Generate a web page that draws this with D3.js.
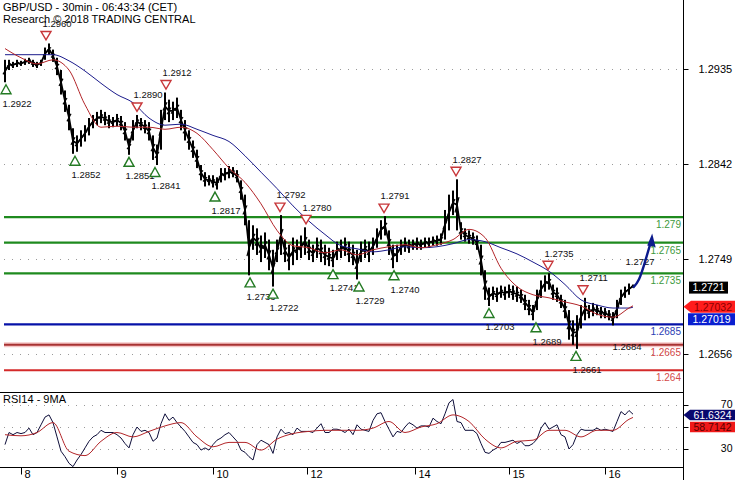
<!DOCTYPE html>
<html><head><meta charset="utf-8">
<script src="https://cdn.jsdelivr.net/npm/d3@7"></script>
<style>
body{margin:0;background:#fff}
svg{display:block}
text{font-family:"Liberation Sans",Arial,sans-serif}
</style>
</head><body>
<svg id="c" width="735" height="480"></svg>
<script>
// ---------- DATA ----------
const title1 = "GBP/USD - 30min - 06:43:34 (CET)";
const title2 = "Research \u00A9 2018 TRADING CENTRAL";
const rsiTitle = "RSI14 - 9MA";

const barHigh = [1.2944,1.2944,1.2942,1.2944,1.2943,1.2945,1.2946,1.2944,1.2942,1.2944,
1.2956,1.2960,1.2954,1.2946,1.2934,1.2914,1.2900,1.2877,1.2870,1.2875,
1.2880,1.2887,1.2890,1.2893,1.2895,1.2893,1.2890,1.2888,1.2891,1.2889,
1.2883,1.2867,1.2885,1.2890,1.2887,1.2885,1.2883,1.2870,1.2861,1.2895,
1.2912,1.2905,1.2903,1.2907,1.2895,1.2885,1.2875,1.2865,1.2856,1.2841,
1.2834,1.2831,1.2831,1.2829,1.2838,1.2838,1.2840,1.2839,1.2836,1.2826,
1.2812,1.2787,1.2782,1.2779,1.2772,1.2775,1.2768,1.2758,1.2768,1.2792,
1.2768,1.2763,1.2770,1.2768,1.2772,1.2780,1.2768,1.2763,1.2770,1.2768,
1.2763,1.2760,1.2758,1.2766,1.2768,1.2770,1.2766,1.2763,1.2758,1.2766,
1.2768,1.2766,1.2770,1.2779,1.2787,1.2791,1.2777,1.2763,1.2763,1.2768,
1.2770,1.2768,1.2768,1.2770,1.2768,1.2770,1.2770,1.2771,1.2772,1.2774,
1.2797,1.2812,1.2816,1.2827,1.2785,1.2779,1.2777,1.2775,1.2772,1.2763,
1.2738,1.2721,1.2722,1.2721,1.2723,1.2722,1.2724,1.2723,1.2722,1.2719,
1.2714,1.2709,1.2704,1.2719,1.2728,1.2733,1.2735,1.2724,1.2721,1.2714,
1.2709,1.2699,1.2689,1.2694,1.2704,1.2711,1.2704,1.2706,1.2704,1.2702,
1.2701,1.2699,1.2697,1.2709,1.2719,1.2722,1.2725,1.2724];

const barLow = [1.2922,1.2934,1.2936,1.2937,1.2938,1.2939,1.2940,1.2937,1.2936,1.2938,
1.2944,1.2949,1.2942,1.2929,1.2910,1.2893,1.2875,1.2852,1.2854,1.2859,
1.2864,1.2870,1.2877,1.2880,1.2882,1.2880,1.2877,1.2878,1.2879,1.2875,
1.2865,1.2851,1.2865,1.2877,1.2875,1.2872,1.2865,1.2846,1.2841,1.2856,
1.2885,1.2883,1.2885,1.2887,1.2875,1.2865,1.2856,1.2848,1.2838,1.2826,
1.2820,1.2821,1.2819,1.2817,1.2824,1.2826,1.2828,1.2829,1.2824,1.2807,
1.2782,1.2733,1.2758,1.2753,1.2746,1.2750,1.2738,1.2722,1.2746,1.2753,
1.2746,1.2738,1.2743,1.2748,1.2750,1.2753,1.2748,1.2746,1.2750,1.2746,
1.2743,1.2742,1.2741,1.2748,1.2750,1.2752,1.2746,1.2743,1.2729,1.2746,
1.2750,1.2746,1.2753,1.2760,1.2768,1.2772,1.2753,1.2740,1.2746,1.2753,
1.2756,1.2755,1.2758,1.2758,1.2758,1.2760,1.2760,1.2762,1.2762,1.2763,
1.2768,1.2777,1.2792,1.2777,1.2768,1.2766,1.2764,1.2763,1.2758,1.2733,
1.2709,1.2703,1.2709,1.2707,1.2711,1.2709,1.2711,1.2709,1.2707,1.2706,
1.2699,1.2694,1.2689,1.2699,1.2711,1.2717,1.2719,1.2709,1.2707,1.2701,
1.2691,1.2670,1.2665,1.2661,1.2681,1.2689,1.2691,1.2693,1.2694,1.2691,
1.2691,1.2689,1.2684,1.2691,1.2704,1.2711,1.2714,1.2721];

// moving averages sampled every 4th bar (plus the last bar)
const maBars = d3.range(0, 157, 4).concat([157]);
const maFast = [1.2955,1.2946,1.2940,1.2944,1.2934,1.2900,1.2878,1.2879,1.2878,1.2878,
1.2876,1.2878,1.2872,1.2856,1.2838,1.2824,1.2803,1.2777,1.2762,1.2760,
1.2755,1.2758,1.2753,1.2758,1.2761,1.2763,1.2760,1.2763,1.2768,1.2778,
1.2770,1.2740,1.2722,1.2714,1.2711,1.2707,1.2703,1.2695,1.2692,1.2701,1.27032];
const maSlow = [1.2949,1.2949,1.2949,1.2949,1.2943,1.2933,1.2921,1.2910,1.2902,1.2887,
1.2880,1.2881,1.2876,1.2870,1.2864,1.2850,1.2834,1.2818,1.2801,1.2786,
1.2773,1.2762,1.2759,1.2756,1.2758,1.2761,1.2760,1.2761,1.2764,1.2768,
1.2766,1.2760,1.2754,1.2746,1.2737,1.2724,1.2709,1.2704,1.2701,1.2701,1.27019];

const rsi = [34,45,43,45,44,45,49,43,45,52,
59,61,54,41,28,23,17,14,20,25,
31,37,41,43,47,45,45,45,43,40,
35,31,43,50,46,47,45,37,40,53,
62,56,59,54,50,46,41,36,34,29,
31,29,34,38,40,43,45,41,37,29,
27,23,20,34,38,36,34,26,41,48,
44,45,43,49,46,46,46,45,49,53,
45,45,48,48,47,45,48,43,52,48,
47,46,56,62,63,55,48,41,46,45,
50,54,52,49,51,51,50,58,55,53,
62,72,75,55,54,47,47,47,44,35,
27,26,29,31,36,36,37,38,35,37,
33,33,35,39,49,54,48,50,52,43,
41,30,34,43,48,47,47,47,49,47,
48,47,46,55,64,61,65,61.6324];
const rsiMa = [43,42,45,54,28,24,37,45,41,46,51,54,41,32,36,36,29,39,44,46,
47,47,47,49,55,45,50,53,61,55,39,31,37,38,47,47,41,47,47,57,58.7142];

const dayLabels = ["8","9","10","12","14","15","16"];
const dayBars = [4,28,52,75.5,102.5,126,150];

const priceTicks = [1.2935,1.2842,1.2749,1.2656];
const rsiTicks = [70,50,30];
const rsiLabelled = [70,30];

const resistLevels = [1.279,1.2765,1.2735];
const pivotLevel = 1.2685;
const supportLevels = [1.2665,1.264];

const highMarks = [
 {v:1.2960,bar:10.25,tri:true},{v:1.2890,bar:33,tri:true},{v:1.2912,bar:40.25,tri:true},
 {v:1.2792,bar:68.75,tri:true},{v:1.2780,bar:75.25,tri:true},{v:1.2791,bar:94.75,tri:true},
 {v:1.2827,bar:112.75,tri:true},{v:1.2735,bar:135.75,tri:true},{v:1.2711,bar:144.5,tri:true},
 {v:1.2727,bar:156,tri:false}];
const lowMarks = [
 {v:1.2922,bar:0.25,tri:true},{v:1.2852,bar:17.5,tri:true},{v:1.2851,bar:31,tri:true},
 {v:1.2841,bar:37.5,tri:true},{v:1.2817,bar:52.5,tri:true},{v:1.2733,bar:61.25,tri:true},
 {v:1.2722,bar:67,tri:true},{v:1.2741,bar:82,tri:true},{v:1.2729,bar:88.5,tri:true},
 {v:1.2740,bar:97.25,tri:true},{v:1.2703,bar:121,tri:true},{v:1.2689,bar:132.75,tri:true},
 {v:1.2661,bar:142.75,tri:true},{v:1.2684,bar:152.75,tri:false}];

const targetBars = [157,158.5,160,161.8];
const targetPrices = [1.2721,1.2727,1.2746,1.2774];

const lastPrice = 1.2721;
const lastFast = 1.27032;
const lastSlow = 1.27019;
const lastRsi = 61.6324;
const lastRsiMa = 58.7142;

// ---------- CHART ----------
const svg = d3.select("#c");
const AX = 683.5, LEFT = 4;
const x = d3.scaleLinear().domain([0,157]).range([5,633]);
const y = d3.scaleLinear().domain([1.2935,1.2656]).range([69,354]);
const yr = d3.scaleLinear().domain([70,30]).range([405,449]);
const f4 = d3.format(".4f"), f5 = d3.format(".5f");

svg.append("rect").attr("width",735).attr("height",480).attr("fill","#fff");

// dotted gridlines
svg.selectAll(".gp").data(priceTicks).join("line")
  .attr("x1",LEFT).attr("x2",AX).attr("y1",d=>Math.round(y(d))+0.5).attr("y2",d=>Math.round(y(d))+0.5)
  .attr("stroke","#9a9a9a").attr("stroke-dasharray","1,7");
svg.selectAll(".gr").data(rsiTicks).join("line")
  .attr("x1",LEFT).attr("x2",AX).attr("y1",d=>Math.round(yr(d))+0.5).attr("y2",d=>Math.round(yr(d))+0.5)
  .attr("stroke","#9a9a9a").attr("stroke-dasharray","1,7");

// levels
function level(v, color, w){
  svg.append("line").attr("x1",LEFT).attr("x2",AX).attr("y1",y(v)).attr("y2",y(v))
    .attr("stroke",color).attr("stroke-width",w);
}
resistLevels.forEach(v=>level(v,"#1e8a1e",2.2));
level(pivotLevel,"#0612a8",2.2);
level(supportLevels[0],"#f5c6c6",5);
level(supportLevels[0],"#a83232",2);
level(supportLevels[1],"#d42a2a",2);

// price bars: high-low sticks plus a line through the bar middles
const bars = barHigh.map((h,i)=>({i,h,l:barLow[i]}));
svg.append("path")
  .attr("d",d3.line().x(d=>x(d.i)).y(d=>y((d.h+d.l)/2))(bars))
  .attr("fill","none").attr("stroke","#000").attr("stroke-width",1.8).attr("stroke-linejoin","round");
svg.append("g").selectAll("rect").data(bars).join("rect")
  .attr("x",d=>x(d.i)-1).attr("width",2)
  .attr("y",d=>y(d.h)).attr("height",d=>Math.max(1.5,y(d.l)-y(d.h)))
  .attr("fill","#000");
svg.append("g").selectAll("line").data(bars).join("line")
  .attr("x1",d=>x(d.i)-2).attr("x2",d=>x(d.i)+2)
  .attr("y1",d=>y(d.h*0.35+d.l*0.65)).attr("y2",d=>y(d.h*0.65+d.l*0.35))
  .attr("stroke","#000").attr("stroke-width",1.2);

// moving averages
const maLine = d3.line().x(d=>x(d[0])).y(d=>y(d[1])).curve(d3.curveMonotoneX);
svg.append("path").attr("d",maLine(maBars.map((b,k)=>[b,maSlow[k]])))
  .attr("fill","none").attr("stroke","#1c1c8c").attr("stroke-width",1);
svg.append("path").attr("d",maLine(maBars.map((b,k)=>[b,maFast[k]])))
  .attr("fill","none").attr("stroke","#b3262a").attr("stroke-width",1);

// markers
const mg = svg.append("g");
highMarks.forEach(m=>{
  const cx = x(m.bar), cy = y(m.v)-8;
  if(m.tri) mg.append("path").attr("d",`M${cx-5},${cy-4}L${cx+5},${cy-4}L${cx},${cy+4.5}Z`)
    .attr("fill","#fff").attr("stroke","#c8373a").attr("stroke-width",1.4);
  mg.append("text").attr("x",cx-3.5).attr("y",y(m.v)-20).attr("dy","0.35em")
    .attr("font-size","9.5px").attr("fill","#111").text(f4(m.v));
});
lowMarks.forEach(m=>{
  const cx = x(m.bar), cy = y(m.v)+7;
  if(m.tri) mg.append("path").attr("d",`M${cx},${cy-4.5}L${cx+5},${cy+4.5}L${cx-5},${cy+4.5}Z`)
    .attr("fill","#fff").attr("stroke","#237a23").attr("stroke-width",1.4);
  mg.append("text").attr("x",cx-3.5).attr("y",y(m.v)+21).attr("dy","0.35em")
    .attr("font-size","9.5px").attr("fill","#111").text(f4(m.v));
});

// target arrow
const tp = targetBars.map((b,k)=>[x(b),y(targetPrices[k])]);
svg.append("path").attr("d",d3.line().curve(d3.curveBasis)(tp.slice(0,-1).concat([[tp[3][0]-1.2,tp[3][1]+8]])))
  .attr("fill","none").attr("stroke","#0c1a8c").attr("stroke-width",2.4);
{
  const [tx,ty] = tp[3];
  svg.append("path").attr("d",`M${tx},${ty}L${tx+3.5},${ty+14}L${tx-5},${ty+12}Z`).attr("fill","#0c1a8c");
}

// level labels
function levelLabel(v,color){
  svg.append("text").attr("x",681).attr("y",y(v)+7.5).attr("dy","0.35em").attr("text-anchor","end")
    .attr("font-size","10px").attr("fill",color).text(String(v));
}
resistLevels.forEach(v=>levelLabel(v,"#3d9a3d"));
levelLabel(pivotLevel,"#2b40b4");
supportLevels.forEach(v=>levelLabel(v,"#d44a4a"));

// RSI lines
const rl = d3.line().x((d,i)=>x(i)).y(d=>yr(d));
svg.append("path").attr("d",rl(rsi)).attr("fill","none").attr("stroke","#0e0e3a").attr("stroke-width",1);
svg.append("path").attr("d",d3.line().x(d=>x(d[0])).y(d=>yr(d[1])).curve(d3.curveMonotoneX)(maBars.map((b,k)=>[b,rsiMa[k]])))
  .attr("fill","none").attr("stroke","#b3262a").attr("stroke-width",1);

// panel borders
svg.append("line").attr("x1",0).attr("x2",AX).attr("y1",392.5).attr("y2",392.5).attr("stroke","#000");
svg.append("line").attr("x1",0).attr("x2",AX).attr("y1",467.5).attr("y2",467.5).attr("stroke","#000");
svg.append("line").attr("x1",AX).attr("x2",AX).attr("y1",0).attr("y2",480).attr("stroke","#000");

// right price axis
const ya = svg.append("g").attr("transform",`translate(${AX},0)`)
  .call(d3.axisRight(y).tickValues(priceTicks).tickSize(5).tickPadding(10).tickFormat(f4));
ya.select(".domain").remove();
ya.selectAll("text").attr("font-size","11px").attr("font-family","Liberation Sans, Arial, sans-serif").attr("fill","#000");
const ra = svg.append("g").attr("transform",`translate(${AX},0)`)
  .call(d3.axisRight(yr).tickValues(rsiTicks).tickSize(5).tickFormat(d=>rsiLabelled.includes(d)?d3.format("d")(d):""));
ra.select(".domain").remove();
ra.selectAll("text").attr("font-size","10.5px").attr("font-family","Liberation Sans, Arial, sans-serif")
  .attr("fill","#000").attr("text-anchor","end").attr("x",49).attr("dy","0.2em");

// bottom day axis
const xa = svg.append("g").attr("transform","translate(0,467.5)")
  .call(d3.axisBottom(x).tickValues(dayBars).tickSize(7).tickFormat((d,i)=>dayLabels[i]));
xa.select(".domain").remove();
xa.selectAll("text").attr("font-size","11px").attr("font-family","Liberation Sans, Arial, sans-serif")
  .attr("fill","#000").attr("text-anchor","start").attr("x",3).attr("y",2.5);

// value boxes
function box(v, yc, fill, tcol, arrow, x0, fmt, fs, h){
  const top = yc-h/2;
  const p = arrow ? `M${AX},${yc}L${x0},${top}L735,${top}L735,${top+h}L${x0},${top+h}Z`
                  : `M${x0},${top}L735,${top}L735,${top+h}L${x0},${top+h}Z`;
  svg.append("path").attr("d",p).attr("fill",fill);
  svg.append("text").attr("x",(x0+735)/2).attr("y",yc).attr("dy","0.36em").attr("text-anchor","middle")
    .attr("font-size",fs).attr("fill",tcol).text(fmt(v));
}
{
  const yc = y(lastPrice);
  svg.append("rect").attr("x",689).attr("y",yc-6).attr("width",39).attr("height",12).attr("fill","#000");
  svg.append("text").attr("x",708.5).attr("y",yc).attr("dy","0.36em").attr("text-anchor","middle")
    .attr("font-size","10.5px").attr("fill","#fff").text(f4(lastPrice));
}
const yF = y(lastFast)+1;
box(lastFast, yF, "#ff1c1c", "#8a0000", true, 691, f5, "10.5px", 12);
box(lastSlow, Math.max(y(lastSlow), yF+12.5), "#0a1fd0", "#fff", false, 688, f5, "10.5px", 12);
const yR = yr(lastRsi)+0.8;
box(lastRsi, yR, "#08086e", "#fff", true, 690, d3.format(".4f"), "10.5px", 10.5);
box(lastRsiMa, Math.max(yr(lastRsiMa), yR+12), "#f01818", "#5a0000", false, 690, d3.format(".4f"), "10.5px", 10.5);

// titles
svg.append("text").attr("x",3).attr("y",11).attr("font-size","11px").attr("fill","#000").text(title1);
svg.append("text").attr("x",3).attr("y",23).attr("font-size","11px").attr("fill","#000").text(title2);
svg.append("text").attr("x",3).attr("y",403).attr("font-size","11px").attr("fill","#000").text(rsiTitle);
</script>
</body></html>
